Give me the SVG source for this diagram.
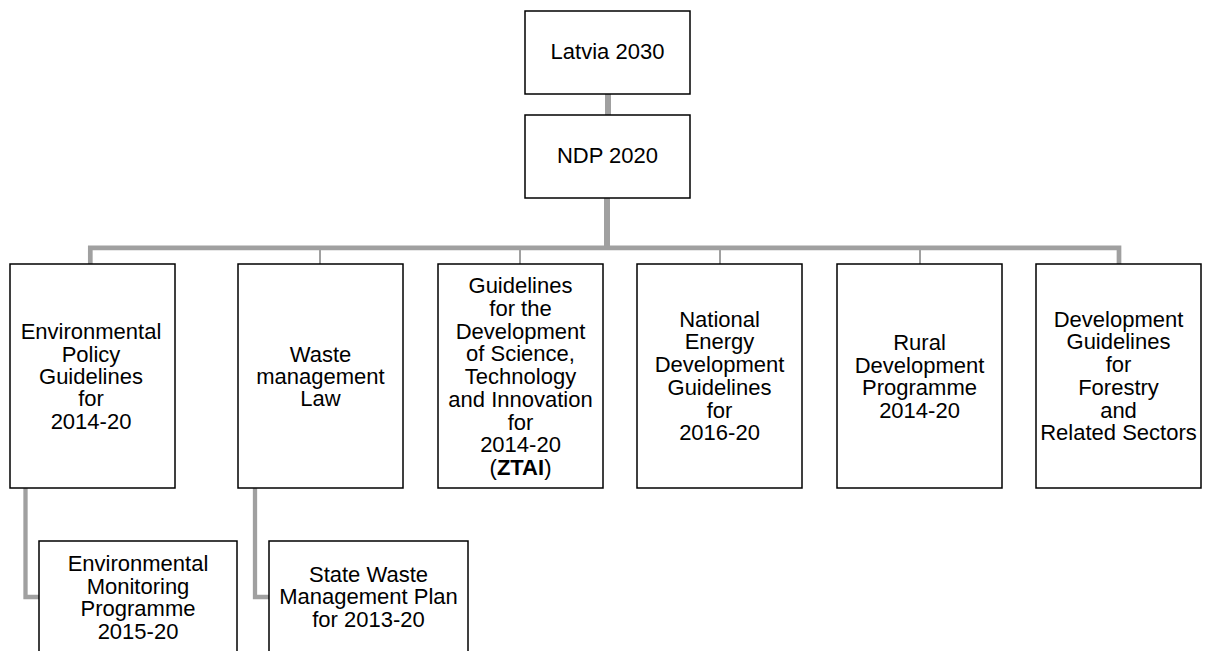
<svg xmlns="http://www.w3.org/2000/svg" width="1205" height="651" viewBox="0 0 1205 651">
<style>
.box{fill:#fff;stroke:#000;stroke-width:1.5}
.t{font-family:"Liberation Sans",Arial,sans-serif;font-size:22px;fill:#000;text-anchor:middle}
.c{stroke:#a0a0a0;fill:none;stroke-linejoin:miter}
</style>
<rect width="1205" height="651" fill="#fff"/>
<g id="connectors">
<line class="c" x1="608" y1="94" x2="608" y2="115" stroke-width="6"/>
<line class="c" x1="607" y1="198" x2="607" y2="248" stroke-width="6"/>
<polyline class="c" points="90.3,264 90.3,247.8 1119,247.8 1119,264" stroke-width="4.7"/>
<line class="c" x1="320" y1="248" x2="320" y2="264" stroke-width="2"/>
<line class="c" x1="520" y1="248" x2="520" y2="264" stroke-width="2"/>
<line class="c" x1="720" y1="248" x2="720" y2="264" stroke-width="2"/>
<line class="c" x1="920" y1="248" x2="920" y2="264" stroke-width="2"/>
<polyline class="c" points="25.5,488 25.5,597 39,597" stroke-width="4.3"/>
<polyline class="c" points="255,488 255,597 269,597" stroke-width="4.3"/>
</g>
<g id="latvia2030">
<rect class="box" x="525" y="11" width="165" height="83"/>
<text class="t" x="607.5" y="59.3">Latvia 2030</text>
</g>
<g id="ndp2020">
<rect class="box" x="525" y="115" width="165" height="83"/>
<text class="t" x="607.5" y="163.3">NDP 2020</text>
</g>
<g id="env-policy">
<rect class="box" x="10" y="264" width="165" height="224"/>
<text class="t"><tspan x="91" y="339.3">Environmental</tspan><tspan x="91" y="361.7">Policy</tspan><tspan x="91" y="384">Guidelines</tspan><tspan x="91" y="406.4">for</tspan><tspan x="91" y="428.8">2014-20</tspan></text>
</g>
<g id="waste-law">
<rect class="box" x="238" y="264" width="165" height="224"/>
<text class="t"><tspan x="320.5" y="361.7">Waste</tspan><tspan x="320.5" y="384">management</tspan><tspan x="320.5" y="406.4">Law</tspan></text>
</g>
<g id="ztai">
<rect class="box" x="438" y="264" width="165" height="224"/>
<text class="t"><tspan x="520.5" y="293.3">Guidelines</tspan><tspan x="520.5" y="316">for the</tspan><tspan x="520.5" y="338.7">Development</tspan><tspan x="520.5" y="361.4">of Science,</tspan><tspan x="520.5" y="384.1">Technology</tspan><tspan x="520.5" y="406.8">and Innovation</tspan><tspan x="520.5" y="429.5">for</tspan><tspan x="520.5" y="452.2">2014-20</tspan><tspan x="520.5" y="474.9">(<tspan font-weight="bold">ZTAI</tspan>)</tspan></text>
</g>
<g id="energy">
<rect class="box" x="637" y="264" width="165" height="224"/>
<text class="t"><tspan x="719.5" y="326.7">National</tspan><tspan x="719.5" y="349.4">Energy</tspan><tspan x="719.5" y="372.1">Development</tspan><tspan x="719.5" y="394.8">Guidelines</tspan><tspan x="719.5" y="417.5">for</tspan><tspan x="719.5" y="440.2">2016-20</tspan></text>
</g>
<g id="rural">
<rect class="box" x="837" y="264" width="165" height="224"/>
<text class="t"><tspan x="919.5" y="350">Rural</tspan><tspan x="919.5" y="372.7">Development</tspan><tspan x="919.5" y="395.4">Programme</tspan><tspan x="919.5" y="418.1">2014-20</tspan></text>
</g>
<g id="forestry">
<rect class="box" x="1036" y="264" width="165" height="224"/>
<text class="t"><tspan x="1118.5" y="326.7">Development</tspan><tspan x="1118.5" y="349.4">Guidelines</tspan><tspan x="1118.5" y="372.1">for</tspan><tspan x="1118.5" y="394.8">Forestry</tspan><tspan x="1118.5" y="417.5">and</tspan><tspan x="1118.5" y="440.2">Related Sectors</tspan></text>
</g>
<g id="env-monitoring">
<rect class="box" x="39" y="541" width="198" height="130"/>
<text class="t"><tspan x="138" y="571">Environmental</tspan><tspan x="138" y="593.5">Monitoring</tspan><tspan x="138" y="616.2">Programme</tspan><tspan x="138" y="638.9">2015-20</tspan></text>
</g>
<g id="state-waste">
<rect class="box" x="269" y="541" width="199" height="130"/>
<text class="t"><tspan x="368.5" y="581.7">State Waste</tspan><tspan x="368.5" y="604.4">Management Plan</tspan><tspan x="368.5" y="627.1">for 2013-20</tspan></text>
</g>
</svg>
